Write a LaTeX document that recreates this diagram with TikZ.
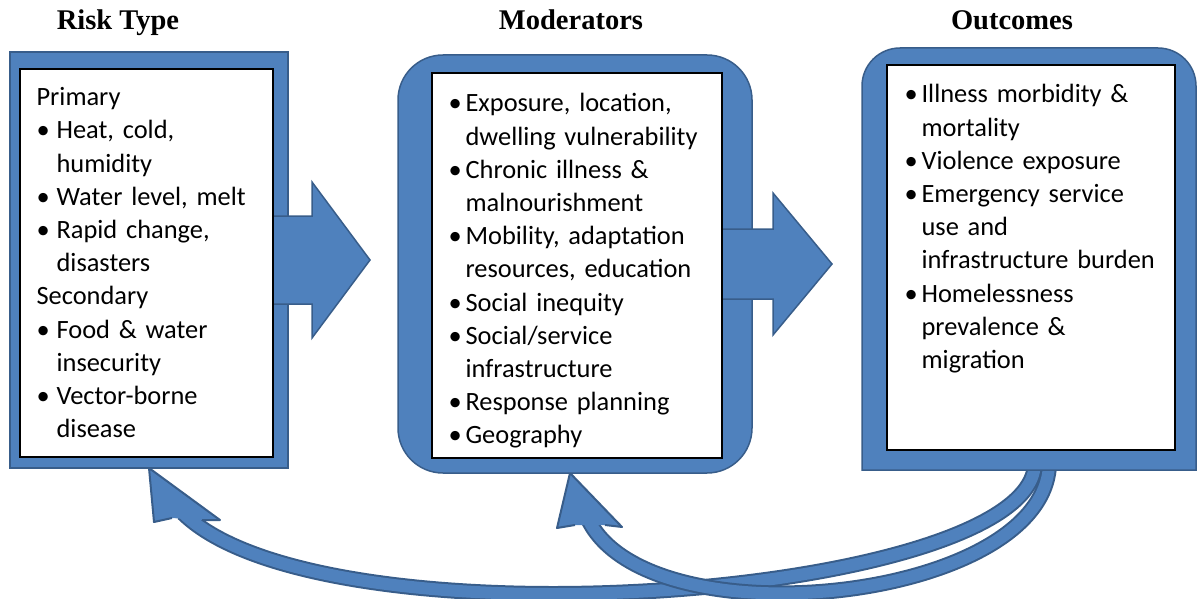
\documentclass[tikz,border=0pt]{standalone}
\usepackage{fontspec}
\setmainfont{Carlito}
\newfontfamily\titlefont{Liberation Serif}
\usetikzlibrary{positioning,calc}
\pgfdeclarelayer{back}
\pgfsetlayers{back,main}

\definecolor{boxblue}{RGB}{79,129,189}
\definecolor{lineblue}{RGB}{56,93,138}

% bullet line with hanging indent
\newcommand{\bitem}[2][20pt]{\noindent\hangindent=#1\hangafter=1\makebox[#1][l]{\textbullet}#2\par}

\begin{document}
\begin{tikzpicture}[x=1pt,y=-1pt,
    frame/.style={fill=boxblue,draw=lineblue,line width=1.5pt},
    panel/.style={fill=white,draw=black,line width=1.2pt},
    bigarrow/.style={fill=boxblue,draw=lineblue,line width=1.5pt,line join=miter},
    backarrow/.style={draw=lineblue,double=boxblue,line width=2pt,double distance=12pt},
    headfill/.style={fill=boxblue},
    headline/.style={draw=lineblue,line width=2pt,line join=round},
    title/.style={font=\titlefont\bfseries\fontsize{28.5}{30}\selectfont,anchor=base},
    list/.style={anchor=north west,inner sep=0pt,align=left,font=\fontsize{26.4}{33.2}\selectfont}]

  \useasboundingbox (0,0) rectangle (1198,599);

  \begin{scope}[every node/.style={inner sep=0pt,outer sep=0pt}]
    \node[frame,minimum width=278pt,minimum height=416pt] (riskbox) at (149,260) {};
    \node[frame,rounded corners=45pt,minimum width=354pt,minimum height=418pt] (modbox) at (575,264) {};
    \node[minimum width=334pt,minimum height=422pt] (outbox) at (1029,259) {};
  \end{scope}
  \draw[frame] (outbox.south west) -- ([yshift=-38pt]outbox.north west)
    arc[start angle=180,end angle=90,radius=38pt] -- ([xshift=-38pt]outbox.north east)
    arc[start angle=90,end angle=0,radius=38pt] -- (outbox.south east) -- cycle;

  % block arrows
  \draw[bigarrow] ([xshift=-15pt]riskbox.east) ++(0,-44) -- ++(39,0) -- ++(0,-34)
    -- ++(58,78) -- ++(-58,78) -- ++(0,-34) -- ++(-39,0) -- cycle;
  \draw[bigarrow] ([xshift=-30pt]modbox.east) ++(0,-35) -- ++(51,0) -- ++(0,-36)
    -- ++(59,71) -- ++(-59,71) -- ++(0,-36) -- ++(-51,0) -- cycle;

  \begin{scope}[every node/.style={panel,inner sep=0pt}]
    \node[minimum width=253pt,minimum height=388pt] (riskin) at (146.5,263) {};
    \node[minimum width=290pt,minimum height=385pt] (modin) at (577,265.5) {};
    \node[minimum width=288pt,minimum height=385pt] (outin) at (1031,257.5) {};
  \end{scope}

  \node[title] (risktitle) at (118,30) {Risk Type};
  \node[title] (modtitle) at (571,30) {Moderators};
  \node[title] (outtitle) at (1012,30) {Outcomes};

  \node[list,text width=240pt] (risktxt) at ([xshift=17pt,yshift=-19pt]riskin.north west) {%
    \noindent Primary\par
    \bitem{Heat, cold,\newline humidity}
    \bitem{Water level, melt}
    \bitem{Rapid change,\newline disasters}
    \noindent Secondary\par
    \bitem{Food \& water\newline insecurity}
    \bitem{Vector-borne\newline disease}};

  \node[list,text width=272pt] (modtxt) at ([xshift=17pt,yshift=-21pt]modin.north west) {%
    \bitem[17pt]{Exposure, location,\newline dwelling vulnerability}
    \bitem[17pt]{Chronic illness \&\newline malnourishment}
    \bitem[17pt]{Mobility, adaptation\newline resources, education}
    \bitem[17pt]{Social inequity}
    \bitem[17pt]{Social/service\newline infrastructure}
    \bitem[17pt]{Response planning}
    \bitem[17pt]{Geography}};

  \node[list,text width=272pt] (outtxt) at ([xshift=18pt,yshift=-20pt]outin.north west) {%
    \bitem[17pt]{Illness morbidity \&\newline mortality}
    \bitem[17pt]{Violence exposure}
    \bitem[17pt]{Emergency service\newline use and\newline infrastructure burden}
    \bitem[17pt]{Homelessness\newline prevalence \&\newline migration}};

  % feedback arrows
  \begin{pgfonlayer}{back}
    \draw[backarrow] ([xshift=6pt,yshift=6pt]outbox.south)
      .. controls +(-5,134) and +(140,138) .. ([xshift=34pt,yshift=-45pt]riskbox.south);
    \fill[headfill] (riskbox.south) -- ++(5,54) -- ++(18,-4) -- ++(30,2) -- ++(18,0) -- cycle;
    \draw[headline] ([xshift=23pt,yshift=-50pt]riskbox.south) -- ++(-18,4) -- (riskbox.south)
      -- ++(71,52) -- ++(-18,0);

    \draw[backarrow] ([xshift=20pt,yshift=6pt]outbox.south)
      .. controls +(-4,138) and +(60,125) .. ([xshift=13pt,yshift=-46pt]modbox.south);
    \fill[headfill] ([xshift=-5pt]modbox.south) -- ++(-13,55) -- ++(18,-3) -- ++(30,0) -- ++(17,2) -- cycle;
    \draw[headline] ([yshift=-52pt]modbox.south) -- ++(-18,3) -- ([xshift=-5pt]modbox.south)
      -- ++(52,54) -- ++(-17,-2);
  \end{pgfonlayer}

\end{tikzpicture}
\end{document}
